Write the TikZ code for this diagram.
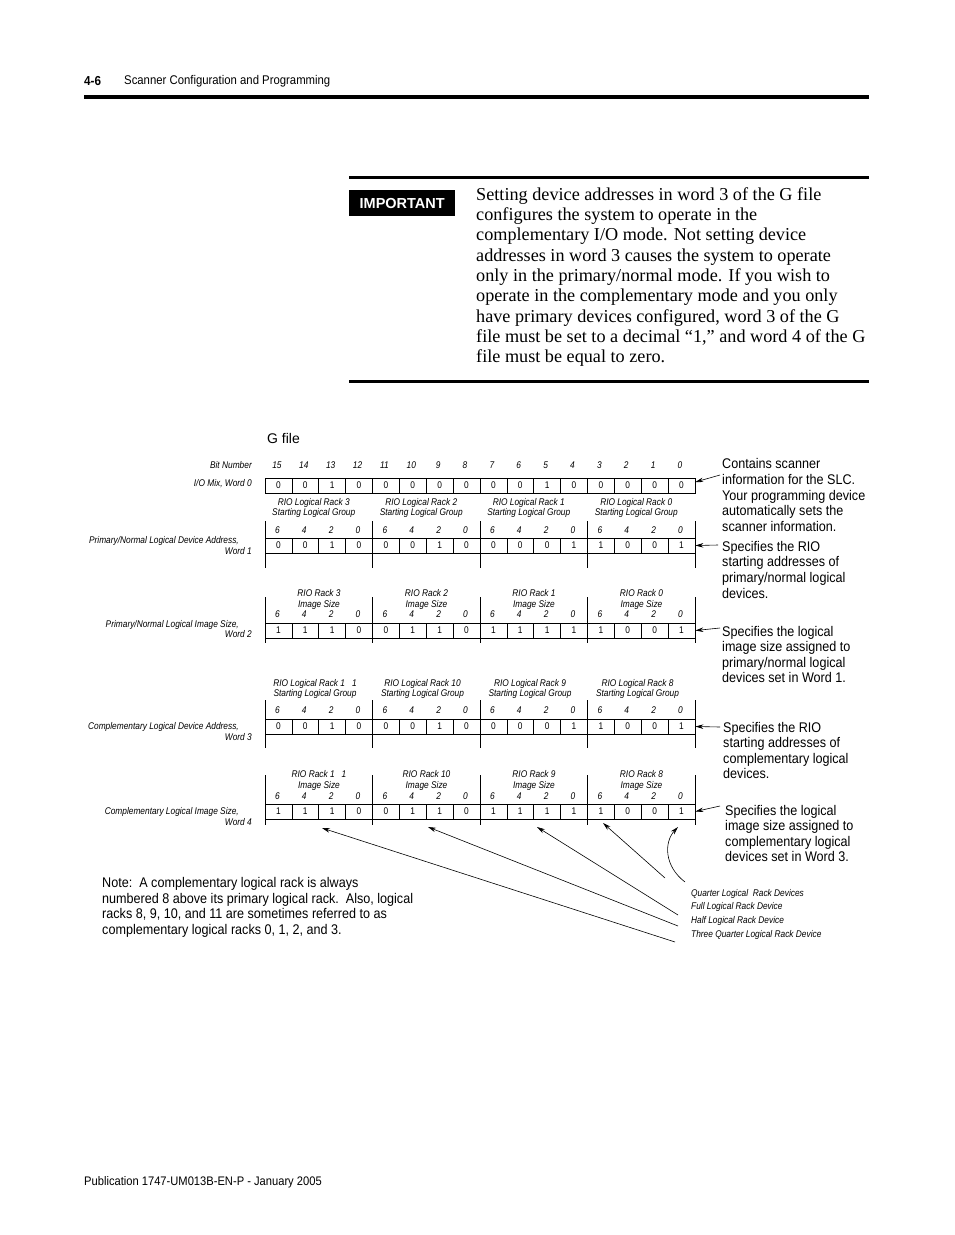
\documentclass[tikz,border=0pt]{standalone}
\usepackage{fontspec}
\setmainfont{Liberation Serif}
\setsansfont{Liberation Sans}
\newfontfamily\hc[FakeStretch=0.86]{Liberation Sans}
\newfontfamily\hcn[FakeStretch=0.9]{Liberation Sans}
\usetikzlibrary{arrows.meta}
\newcommand\smf{\hc\itshape\fontsize{9.7}{10.5}\selectfont}
\newcommand\cellf{\hc\fontsize{9.7}{10.5}\selectfont}
\newcommand\descf{\hcn\fontsize{14}{15.6}\selectfont}
\begin{document}
\begin{tikzpicture}[x=1pt,y=-1pt,
  cell/.style={draw, line width=0.7pt, minimum width=26.875pt, minimum height=15pt, inner sep=0pt, font=\cellf},
  sm/.style={font=\smf, inner sep=0pt},
  desc/.style={font=\descf, align=left, anchor=west, inner sep=0pt},
  arr/.style={-{Stealth[length=8pt,width=4.5pt]}, line width=0.6pt},
  divider/.style={line width=0.7pt},
  rule/.style={fill=black, draw=none}]
\useasboundingbox (0,0) rectangle (954,1235);
% header
\node[anchor=west, inner sep=0pt, font=\hcn\bfseries\fontsize{13}{15}\selectfont] (pg) at (84,81) {4-6};
\node[anchor=west, inner sep=0pt, font=\hcn\fontsize{12.6}{15}\selectfont] (ht) at (124,81) {Scanner Configuration and Programming};
\fill[rule] (84,95) rectangle (869,99);
% important
\fill[rule] (349,175.5) rectangle (869,178.5);
\fill[rule] (349,379.5) rectangle (869,382.5);
\node[anchor=north west, fill=black, text=white, minimum width=106pt, minimum height=26pt, inner sep=0pt, font=\sffamily\bfseries\fontsize{14.5}{16}\selectfont] (imp) at (349,190) {IMPORTANT};
\node[anchor=west, align=left, inner sep=0pt, font=\fontsize{18.2}{20.35}\selectfont] (imptext) at (476,277) {Setting device addresses in word 3 of the G file\\
configures the system to operate in the\\
complementary I/O mode. Not setting device\\
addresses in word 3 causes the system to operate\\
only in the primary/normal mode. If you wish to\\
operate in the complementary mode and you only\\
have primary devices configured, word 3 of the G\\
file must be set to a decimal “1,” and word 4 of the G\\
file must be equal to zero.};
% G file
\node[anchor=west, inner sep=0pt, font=\sffamily\fontsize{14}{16}\selectfont] (gfile) at (267,438) {G file};
% bit numbers
\node[sm, anchor=east] (bitlab) at (252,465) {Bit Number};
\foreach \b [count=\i from 0] in {15,14,13,12,11,10,9,8,7,6,5,4,3,2,1,0}
  \node[sm] (bn\i) at ({265+26.875*(\i+0.5)-1.5},465) {\b};
% cells
\foreach \v [count=\i from 0] in {0,0,1,0,0,0,0,0,0,0,1,0,0,0,0,0}
  \node[cell] (c0-\i) at ({265+26.875*(\i+0.5)},485.5) {\v};
\foreach \v [count=\i from 0] in {0,0,1,0,0,0,1,0,0,0,0,1,1,0,0,1}
  \node[cell] (c1-\i) at ({265+26.875*(\i+0.5)},545.5) {\v};
\foreach \v [count=\i from 0] in {1,1,1,0,0,1,1,0,1,1,1,1,1,0,0,1}
  \node[cell] (c2-\i) at ({265+26.875*(\i+0.5)},630.5) {\v};
\foreach \v [count=\i from 0] in {0,0,1,0,0,0,1,0,0,0,0,1,1,0,0,1}
  \node[cell] (c3-\i) at ({265+26.875*(\i+0.5)},726.5) {\v};
\foreach \v [count=\i from 0] in {1,1,1,0,0,1,1,0,1,1,1,1,1,0,0,1}
  \node[cell] (c4-\i) at ({265+26.875*(\i+0.5)},811.5) {\v};
% group dividers
\foreach \ya/\yb in {521/568, 597/643, 700/748, 775/825}
  \foreach \g in {0,...,4}
    \draw[divider] ({265+107.5*\g},\ya) -- ({265+107.5*\g},\yb);
% column numbers
\foreach \w/\yy in {1/530, 2/614, 3/710, 4/796}
  \foreach \g in {0,...,3}
    \foreach \n [count=\k from 0] in {6,4,2,0}
      \node[sm] (cn\w-\g-\k) at ({265+107.5*\g+26.875*(\k+0.5)-1},\yy) {\n};
% group labels
\foreach \t [count=\g from 0] in {RIO Logical Rack 3, RIO Logical Rack 2, RIO Logical Rack 1, RIO Logical Rack 0}
  \node[sm, align=center] (ga\g) at ({265+107.5*\g+48.75},508) {\t\\Starting Logical Group};
\foreach \t [count=\g from 0] in {RIO Rack 3, RIO Rack 2, RIO Rack 1, RIO Rack 0}
  \node[sm, align=center] (gb\g) at ({265+107.5*\g+54},599.5) {\t\\Image Size};
\foreach \t [count=\g from 0] in {RIO Logical Rack 1\hspace*{7pt}1, RIO Logical Rack 10, RIO Logical Rack 9, RIO Logical Rack 8}
  \node[sm, align=center] (gc\g) at ({265+107.5*\g+50},689) {\t\\Starting Logical Group};
\foreach \t [count=\g from 0] in {RIO Rack 1\hspace*{7pt}1, RIO Rack 10, RIO Rack 9, RIO Rack 8}
  \node[sm, align=center] (gd\g) at ({265+107.5*\g+54},780.5) {\t\\Image Size};
% left labels
\node[sm, anchor=east] (l0) at (252,483.5) {I/O Mix, Word 0};
\node[sm, anchor=east, align=right] (l1) at (252,545.5) {Primary/Normal Logical Device Address,\hspace*{13pt}\\Word 1};
\node[sm, anchor=east, align=right] (l2) at (252,629) {Primary/Normal Logical Image Size,\hspace*{13pt}\\Word 2};
\node[sm, anchor=east, align=right] (l3) at (252,731.5) {Complementary Logical Device Address,\hspace*{13pt}\\Word 3};
\node[sm, anchor=east, align=right] (l4) at (252,816.5) {Complementary Logical Image Size,\hspace*{13pt}\\Word 4};
% right descriptions
\node[desc] (d0) at (722,495) {Contains scanner\\information for the SLC.\\Your programming device\\automatically sets the\\scanner information.};
\node[desc] (d1) at (722,569.75) {Specifies the RIO\\starting addresses of\\primary/normal logical\\devices.};
\node[desc] (d2) at (722,654.5) {Specifies the logical\\image size assigned to\\primary/normal logical\\devices set in Word 1.};
\node[desc] (d3) at (723,750.5) {Specifies the RIO\\starting addresses of\\complementary logical\\devices.};
\node[desc] (d4) at (725,833.5) {Specifies the logical\\image size assigned to\\complementary logical\\devices set in Word 3.};
\coordinate (a0) at (720,475);
\coordinate (a1) at (718,545);
\coordinate (a2) at (720,628);
\coordinate (a3) at (720,727);
\coordinate (a4) at (720,806);
\draw[arr] (a0) -- ([yshift=3.5pt]c0-15.east);
\draw[arr] (a1) -- (c1-15.east);
\draw[arr] (a2) -- (c2-15.east);
\draw[arr] (a3) -- (c3-15.east);
\draw[arr] (a4) -- (c4-15.east);
% note
\node[desc] (note) at (102,907.5) {Note:\ \ A complementary logical rack is always\\numbered 8 above its primary logical rack.\ \ Also, logical\\racks 8, 9, 10, and 11 are sometimes referred to as\\complementary logical racks 0, 1, 2, and 3.};
% bottom labels
\node[sm, anchor=west] (qd) at (691,893.5) {Quarter Logical\ \ Rack Devices};
\node[sm, anchor=west] (fd) at (691,907) {Full Logical Rack Device};
\node[sm, anchor=west] (hd) at (691,920.5) {Half Logical Rack Device};
\node[sm, anchor=west] (td) at (691,934.5) {Three Quarter Logical Rack Device};
\coordinate (tq1) at (665,878);
\coordinate (tq2) at (685,882);
\coordinate (tf) at (678,915);
\coordinate (th) at (678,926);
\coordinate (tt) at (675,942);
\coordinate (pq1) at (603,823);
\coordinate (pq2) at (678,827);
\coordinate (pf) at (537,827);
\coordinate (ph) at (428,827);
\coordinate (pt) at (322,828);
\draw[arr] (tq1) -- (pq1);
\draw[arr] (tq2) .. controls (664,866) and (664,842) .. (pq2);
\draw[arr] (tf) -- (pf);
\draw[arr] (th) -- (ph);
\draw[arr] (tt) -- (pt);
% footer
\node[anchor=west, inner sep=0pt, font=\hcn\fontsize{12.4}{15}\selectfont] (foot) at (84,1182) {Publication 1747-UM013B-EN-P - January 2005};
\end{tikzpicture}
\end{document}
